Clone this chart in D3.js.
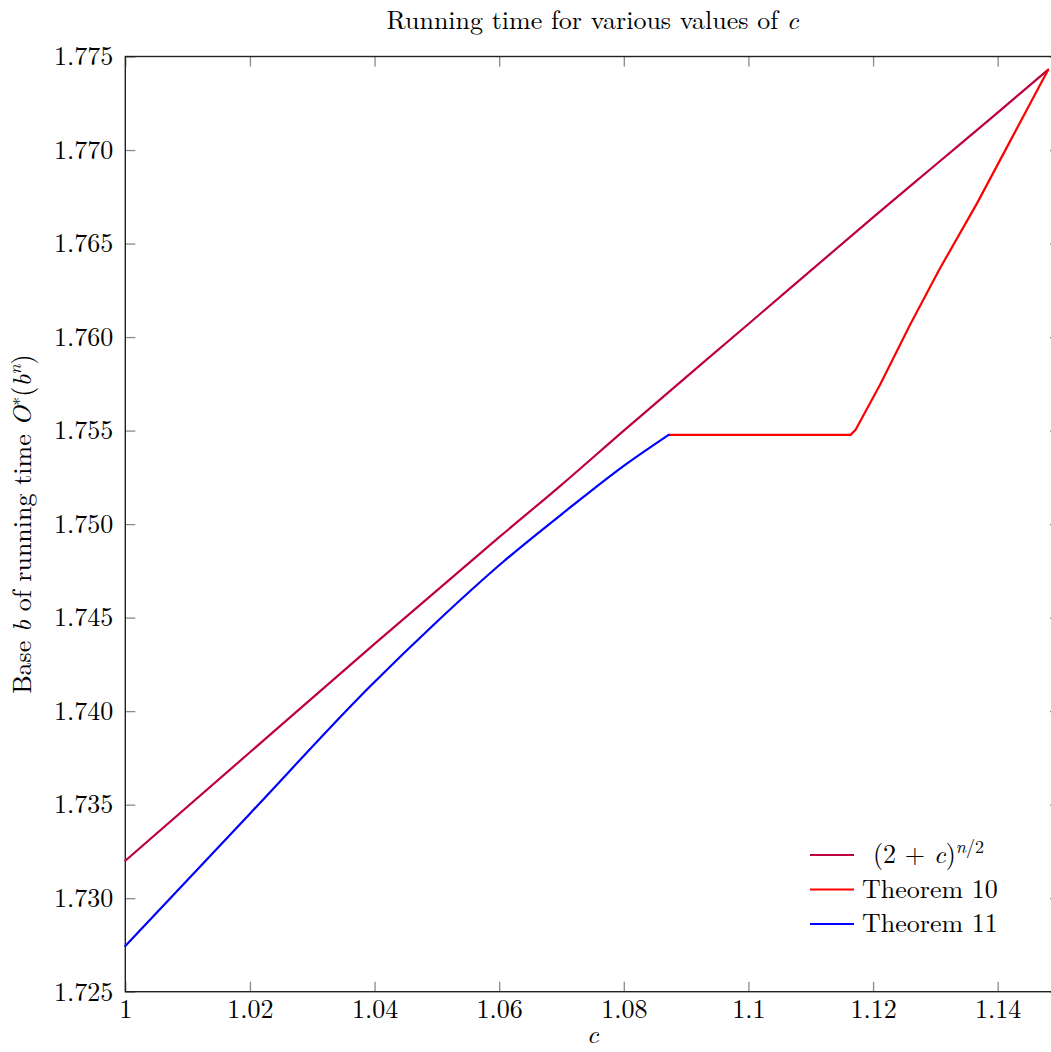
<!DOCTYPE html>
<html>
<head>
<meta charset="utf-8">
<script src="https://cdn.jsdelivr.net/npm/d3@7"></script>
<style>
  html, body { margin: 0; padding: 0; background: #fff; }
  svg { display: block; }
  text { font-family: "Latin Modern Roman", "CMU Serif", "Liberation Serif", Tinos, "Times New Roman", "Noto Serif", "DejaVu Serif", FreeSerif, serif; fill: #000; }
</style>
</head>
<body>
<svg id="chart" width="1051" height="1052"></svg>
<script>
// ---- data ----
const xTickValues = [1, 1.02, 1.04, 1.06, 1.08, 1.1, 1.12, 1.14];
const xTickLabels = ["1", "1.02", "1.04", "1.06", "1.08", "1.1", "1.12", "1.14"];
const yTickValues = [1.725, 1.73, 1.735, 1.74, 1.745, 1.75, 1.755, 1.76, 1.765, 1.77, 1.775];
const yTickLabels = ["1.725", "1.730", "1.735", "1.740", "1.745", "1.750", "1.755", "1.760", "1.765", "1.770", "1.775"];

// (2+c)^{n/2}
const purpleC = [1.0, 1.02, 1.04, 1.06, 1.07, 1.08, 1.10, 1.12, 1.13, 1.14, 1.1481];
const purpleB = [1.7320, 1.7378, 1.7436, 1.7493, 1.7521, 1.7550, 1.7607, 1.7664, 1.7692, 1.7720, 1.7743];

// Theorem 10
const redC = [1.0872, 1.1164, 1.1172, 1.1211, 1.1259, 1.1307, 1.1367, 1.1426, 1.1481];
const redB = [1.75477, 1.75477, 1.75504, 1.75744, 1.76063, 1.76365, 1.76716, 1.77085, 1.77429];

// Theorem 11
const blueC = [1.0, 1.0200, 1.0393, 1.0500, 1.0607, 1.0714, 1.0794, 1.0872];
const blueB = [1.72744, 1.73452, 1.74133, 1.74478, 1.74800, 1.75089, 1.75297, 1.75477];

const seriesNames = ["(2 + c)^{n/2}", "Theorem 10", "Theorem 11"];
const seriesColors = ["#BF0040", "#FF0000", "#0000FF"];

// ---- layout ----
const svg = d3.select("#chart");
const L = 125.3, R = 1060, T = 56.5, B = 991.7;
const FS = 26;
const SUP = 18;

const x = d3.scaleLinear().domain([1, 1.15]).range([L, R]);
const y = d3.scaleLinear().domain([1.725, 1.775]).range([B, T]);

// ticks: bottom
const gx = svg.append("g").attr("transform", `translate(0,${B})`)
  .call(d3.axisBottom(x).tickValues(xTickValues)
    .tickFormat((d, i) => xTickLabels[i]).tickSizeInner(-10).tickSizeOuter(0).tickPadding(8));
// ticks: left
const gy = svg.append("g").attr("transform", `translate(${L},0)`)
  .call(d3.axisLeft(y).tickValues(yTickValues)
    .tickFormat((d, i) => yTickLabels[i]).tickSizeInner(-10).tickSizeOuter(0).tickPadding(12));
// mirrored ticks: top and right (no labels)
const gt = svg.append("g").attr("transform", `translate(0,${T})`)
  .call(d3.axisTop(x).tickValues(xTickValues).tickFormat("").tickSizeInner(-10).tickSizeOuter(0));
const gr = svg.append("g").attr("transform", `translate(${R},0)`)
  .call(d3.axisRight(y).tickValues(yTickValues).tickFormat("").tickSizeInner(-10).tickSizeOuter(0));

[gx, gy, gt, gr].forEach(g => {
  g.attr("font-family", null).attr("font-size", null);
  g.select(".domain").remove();
  g.selectAll(".tick line").attr("stroke", "#8a8a8a").attr("stroke-width", 1.3);
  g.selectAll(".tick text").attr("font-size", FS).attr("fill", "#000");
});

// frame
svg.append("rect").attr("x", L).attr("y", T).attr("width", R - L).attr("height", B - T)
  .attr("fill", "none").attr("stroke", "#222").attr("stroke-width", 1.4);

// lines
const smooth = d3.line().x(d => x(d[0])).y(d => y(d[1])).curve(d3.curveMonotoneX);
const straight = d3.line().x(d => x(d[0])).y(d => y(d[1]));
const series = [
  d3.zip(purpleC, purpleB),
  d3.zip(redC, redB),
  d3.zip(blueC, blueB)
];
series.forEach((s, i) => {
  svg.append("path").datum(s).attr("d", i === 1 ? straight(s) : smooth(s))
    .attr("fill", "none").attr("stroke", seriesColors[i])
    .attr("stroke-width", 2.2).attr("stroke-linejoin", "round").attr("stroke-linecap", "round");
});

// title
const title = svg.append("text").attr("x", (L + R) / 2).attr("y", 29)
  .attr("text-anchor", "middle").attr("font-size", FS);
title.append("tspan").text("Running time for various values of ");
title.append("tspan").attr("font-style", "italic").text("c");

// x label
svg.append("text").attr("x", (L + R) / 2).attr("y", 1043).attr("text-anchor", "middle")
  .attr("font-size", FS).attr("font-style", "italic").text("c");

// y label
const yl = svg.append("text").attr("transform", `translate(31,${(T + B) / 2}) rotate(-90)`)
  .attr("text-anchor", "middle").attr("font-size", FS);
yl.append("tspan").text("Base ");
yl.append("tspan").attr("font-style", "italic").text("b");
yl.append("tspan").text(" of running time ");
yl.append("tspan").attr("font-style", "italic").text("O");
yl.append("tspan").attr("font-size", SUP).attr("dy", -10).text("∗");
yl.append("tspan").attr("dy", 10).text("(");
yl.append("tspan").attr("font-style", "italic").text("b");
yl.append("tspan").attr("font-size", SUP).attr("font-style", "italic").attr("dy", -10).text("n");
yl.append("tspan").attr("dy", 10).text(")");

// legend
const legRows = [855, 889.5, 924];
seriesNames.forEach((name, i) => {
  const ly = legRows[i];
  svg.append("line").attr("x1", 810).attr("x2", 854).attr("y1", ly).attr("y2", ly)
    .attr("stroke", seriesColors[i]).attr("stroke-width", 2.2);
  const t = svg.append("text").attr("y", ly + 8).attr("font-size", FS);
  if (i === 0) {
    t.attr("x", 873);
    t.append("tspan").text("(2 + ");
    t.append("tspan").attr("font-style", "italic").text("c");
    t.append("tspan").text(")");
    const sup = t.append("tspan").attr("font-size", SUP).attr("dy", -10);
    sup.append("tspan").attr("font-style", "italic").text("n");
    sup.append("tspan").text("/2");
  } else {
    t.attr("x", 862).text(name);
  }
});
</script>
</body>
</html>
